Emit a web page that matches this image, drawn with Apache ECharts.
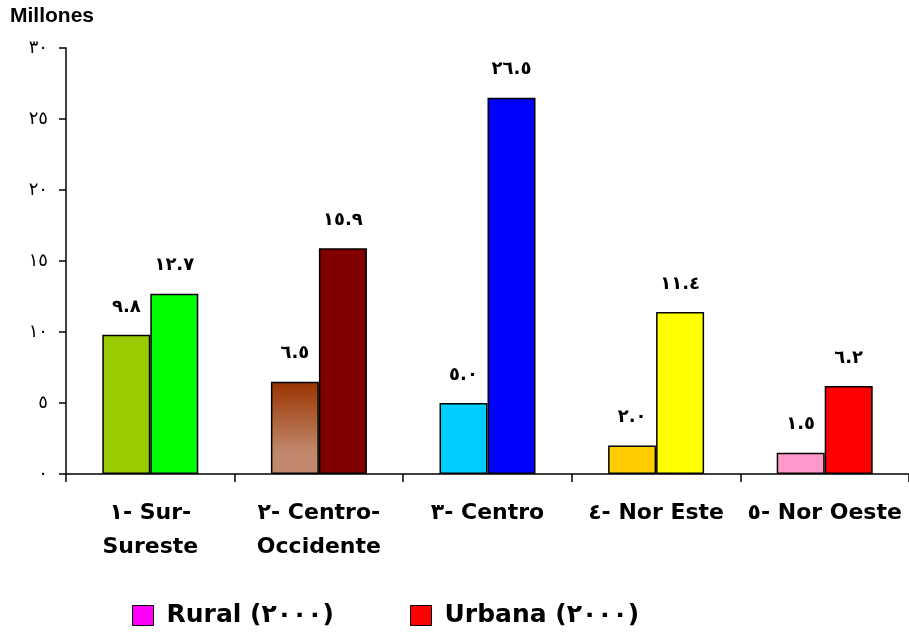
<!DOCTYPE html>
<html>
<head>
<meta charset="utf-8">
<script src="https://cdn.jsdelivr.net/npm/echarts@6/dist/echarts.min.js"></script>
<style>
  html, body { margin: 0; padding: 0; background: #fff; }
  #chart { width: 909px; height: 636px; }
</style>
</head>
<body>
<div id="chart"></div>
<script>
// regions and population (millions), year 2000
const categories = ['١- Sur-\nSureste', '٢- Centro-\nOccidente', '٣- Centro', '٤- Nor Este', '٥- Nor Oeste'];
const ruralValues = [9.8, 6.5, 5.0, 2.0, 1.5];
const urbanValues = [12.7, 15.9, 26.5, 11.4, 6.2];
const seriesNames = ['Rural (٢٠٠٠)', 'Urbana (٢٠٠٠)'];
const arabicDigits = ['٠', '١', '٢', '٣', '٤', '٥', '٦', '٧', '٨', '٩'];

const brownGrad = new echarts.graphic.LinearGradient(0, 0, 0, 1, [
  { offset: 0, color: '#993300' },
  { offset: 0.75, color: '#C0876A' },
  { offset: 1, color: '#C0876A' }
]);
const ruralColors = ['#99CC00', brownGrad, '#00CCFF', '#FFCC00', '#FF99CC'];
const urbanColors = ['#00FF00', '#800000', '#0000FF', '#FFFF00', '#FF0000'];

function toArabic(s) {
  return String(s).replace(/[0-9]/g, d => arabicDigits[+d]);
}

const chart = echarts.init(document.getElementById('chart'));

const barLabel = {
  show: true,
  position: 'top',
  distance: 19,
  fontFamily: 'DejaVu Sans',
  fontWeight: 'bold',
  fontSize: 18,
  color: '#000',
  formatter: p => toArabic(p.value.toFixed(1))
};

const legendBase = {
  top: 598,
  icon: 'rect',
  itemWidth: 21, itemHeight: 20,
  itemStyle: { borderColor: '#000', borderWidth: 1 },
  textStyle: { fontFamily: 'DejaVu Sans', fontWeight: 'bold', fontSize: 25, color: '#000', padding: [0, 0, 0, 8] }
};

chart.setOption({
  animation: false,
  backgroundColor: '#fff',
  title: {
    text: 'Millones',
    left: 10, top: 6, padding: 0,
    textStyle: { fontFamily: 'Liberation Sans', fontWeight: 'bold', fontSize: 21, color: '#000' }
  },
  legend: [
    Object.assign({ data: [seriesNames[0]], left: 127 }, legendBase),
    Object.assign({ data: [seriesNames[1]], left: 405 }, legendBase)
  ],
  grid: { left: 66, right: -3, top: 48, bottom: 162, containLabel: false },
  xAxis: {
    type: 'category',
    data: categories,
    axisLine: { lineStyle: { color: '#000', width: 1.5 } },
    axisTick: { show: true, length: 8, lineStyle: { color: '#000', width: 1.5 } },
    axisLabel: {
      interval: 0,
      margin: 22,
      lineHeight: 34,
      fontFamily: 'DejaVu Sans',
      fontWeight: 'bold',
      fontSize: 22,
      color: '#000'
    }
  },
  yAxis: {
    type: 'value',
    min: 0, max: 30, interval: 5,
    splitLine: { show: false },
    axisLine: { show: true, lineStyle: { color: '#000', width: 1.5 } },
    axisTick: { show: true, length: 7, lineStyle: { color: '#000', width: 1.5 } },
    axisLabel: {
      margin: 18,
      fontFamily: 'DejaVu Sans',
      fontSize: 18,
      color: '#000',
      formatter: v => toArabic(v)
    }
  },
  series: [
    {
      name: seriesNames[0],
      type: 'bar',
      barWidth: 48,
      barGap: '0%',
      itemStyle: { color: '#FF00FF', borderColor: '#000', borderWidth: 1.5 },
      label: barLabel,
      data: ruralValues.map((v, i) => ({ value: v, itemStyle: { color: ruralColors[i] } }))
    },
    {
      name: seriesNames[1],
      type: 'bar',
      barWidth: 48,
      barGap: '0%',
      itemStyle: { color: '#FF0000', borderColor: '#000', borderWidth: 1.5 },
      label: barLabel,
      data: urbanValues.map((v, i) => ({ value: v, itemStyle: { color: urbanColors[i] } }))
    }
  ]
});
</script>
</body>
</html>
